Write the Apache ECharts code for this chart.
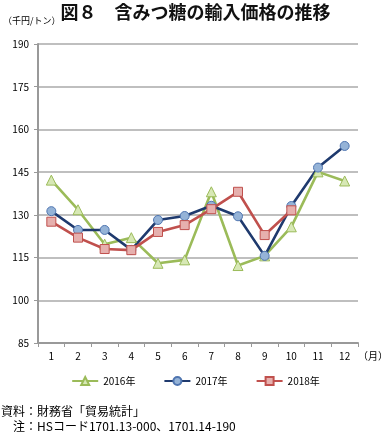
<!DOCTYPE html>
<html><head><meta charset="utf-8">
<script src="https://cdn.jsdelivr.net/npm/echarts@6/dist/echarts.min.js"></script>
<style>html,body{margin:0;padding:0;background:#fff}#c{width:391px;height:433px}</style>
</head><body><div id="c"></div>
<script>
const months = ['1','2','3','4','5','6','7','8','9','10','11','12'];
const yTicks = [85, 100, 115, 130, 145, 160, 175, 190];
const s2016 = [142.2, 131.8, 119.7, 122.0, 113.0, 114.2, 138.1, 112.2, 115.6, 125.8, 145.1, 141.9];
const s2017 = [131.3, 124.7, 124.7, 117.7, 128.2, 129.6, 133.2, 129.5, 115.6, 133.1, 146.6, 154.2];
const s2018 = [127.6, 122.0, 118.0, 117.6, 124.0, 126.4, 132.0, 138.1, 122.9, 131.6, null, null];

const F = "'Noto Sans CJK JP', sans-serif";
const chart = echarts.init(document.getElementById('c'));
function ser(name, data, line, fill, border, symbol, size){
  return {name, type:'line', data, symbol, symbolSize:size, connectNulls:false,
    lineStyle:{color:line, width:2.6}, itemStyle:{color:fill, borderColor:border, borderWidth:1},
    emphasis:{disabled:true}};
}
chart.setOption({
  animation:false,
  textStyle:{fontFamily:F},
  title:[
    {text:'図８　含みつ糖の輸入価格の推移', left:'center', top:1, padding:0, textStyle:{fontFamily:F, fontSize:18, fontWeight:'bold', color:'#111', lineHeight:22}},
    {text:'（千円/トン）', left:3, top:15, padding:0, textStyle:{fontFamily:F, fontSize:9, fontWeight:'normal', color:'#000', lineHeight:12}},
    {text:'資料：財務省「貿易統計」', left:1, top:404, padding:0, textStyle:{fontFamily:F, fontSize:12, fontWeight:'normal', color:'#000', lineHeight:14}},
    {text:'　注：HSコード1701.13-000、1701.14-190', left:1, top:419, padding:0, textStyle:{fontFamily:F, fontSize:12, fontWeight:'normal', color:'#000', lineHeight:14}}
  ],
  legend:{top:371, left:'center', itemGap:28, itemWidth:26, itemHeight:10,
    textStyle:{fontFamily:F, fontSize:10, color:'#000'},
    data:['2016年','2017年','2018年']},
  grid:{left:38, right:15, top:44, bottom:90, containLabel:false},
  xAxis:{type:'category', data:months, boundaryGap:true,
    name:'（月）', nameLocation:'end', nameGap:0, nameTextStyle:{fontFamily:F, fontSize:10, color:'#000', verticalAlign:'top', padding:[8,0,0,0]},
    axisLine:{lineStyle:{color:'#999', width:2}},
    axisTick:{show:true, length:4, lineStyle:{color:'#999'}},
    axisLabel:{fontFamily:F, fontSize:10, color:'#000', margin:8}},
  yAxis:{type:'value', min:85, max:190, interval:15,
    axisLine:{show:true, lineStyle:{color:'#999', width:2}},
    axisTick:{show:true, length:4, lineStyle:{color:'#999'}},
    splitLine:{lineStyle:{color:'#aaa', width:1.5}},
    axisLabel:{fontFamily:F, fontSize:10, color:'#000', margin:9,
      formatter:v=>yTicks.includes(v)?String(v):''}},
  series:[
    ser('2016年', s2016, '#9bbb59', '#d7e8b5', '#9bbb59', 'triangle', 10),
    ser('2017年', s2017, '#1f3a6e', '#95b3d7', '#4f75b0', 'circle', 9),
    ser('2018年', s2018, '#c0504d', '#e6b0ae', '#c0504d', 'rect', 9)
  ]
});
</script></body></html>
